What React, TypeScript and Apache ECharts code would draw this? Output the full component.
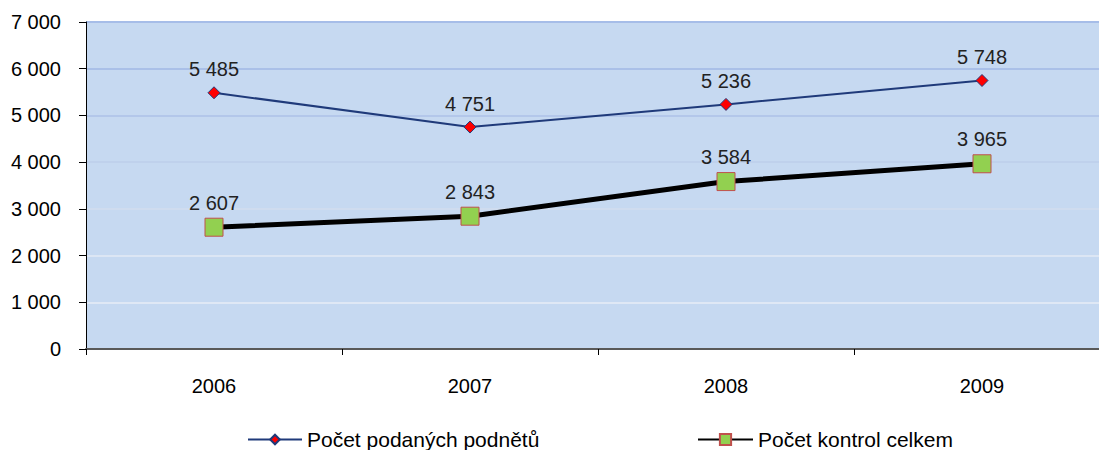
import React, { useEffect, useRef } from "react";
import * as echarts from "echarts";

const categories = ["2006", "2007", "2008", "2009"];
const podnety = [5485, 4751, 5236, 5748];
const kontroly = [2607, 2843, 3584, 3965];
const seriesNames = ["Počet podaných podnětů", "Počet kontrol celkem"];

const fmt = (v: number) => String(v).replace(/\B(?=(\d{3})+(?!\d))/g, " ");

export default function App() {
  const ref = useRef<HTMLDivElement>(null);
  useEffect(() => {
    if (!ref.current) return;
    const chart = echarts.init(ref.current, undefined, { renderer: "svg" });
    const font = "Liberation Sans, Arial, sans-serif";
    chart.setOption({
      animation: false,
      backgroundColor: "#ffffff",
      textStyle: { fontFamily: font },
      grid: { left: 86, right: 0, top: 22, bottom: 101, backgroundColor: "#c6d9f1", show: true, borderWidth: 0 },
      legend: [
        {
          data: [seriesNames[0]],
          left: 247,
          top: 429,
          padding: 0,
          itemWidth: 54,
          itemHeight: 12,
          textStyle: { fontSize: 21, color: "#000", fontFamily: font },
        },
        {
          data: [seriesNames[1]],
          left: 697,
          top: 429,
          padding: 0,
          itemWidth: 55,
          itemHeight: 14,
          textStyle: { fontSize: 21, color: "#000", fontFamily: font },
        },
      ],
      xAxis: {
        type: "category",
        data: categories,
        boundaryGap: true,
        axisLine: { lineStyle: { color: "#595959", width: 2 } },
        axisTick: { show: true, length: 6, lineStyle: { color: "#000", width: 1 } },
        axisLabel: { margin: 27, fontSize: 20, color: "#000", fontFamily: font },
      },
      yAxis: {
        type: "value",
        min: 0,
        max: 7000,
        interval: 1000,
        axisLine: { show: true, lineStyle: { color: "#000", width: 1 } },
        axisTick: { show: true, length: 7, lineStyle: { color: "#000" } },
        axisLabel: { margin: 25, fontSize: 20, color: "#000", fontFamily: font, formatter: (v: number) => fmt(v) },
        splitLine: {
          show: true,
          lineStyle: {
            width: 2,
            color: ["#c6d9f1", "#dfe8f5", "#dce6f4", "#cfdcef", "#bfd1ec", "#b3c7ea", "#aac0e8", "#a6bde8"],
          },
        },
      },
      series: [
        {
          name: seriesNames[0],
          type: "line",
          data: podnety,
          symbol: "diamond",
          symbolSize: 12,
          lineStyle: { color: "#1f3a7a", width: 2 },
          itemStyle: { color: "#ff0000", borderColor: "#1f3a7a", borderWidth: 1 },
          label: { show: true, position: "top", distance: 7, fontSize: 20, color: "#222", fontFamily: font, formatter: (p: any) => fmt(p.value) },
          z: 3,
        },
        {
          name: seriesNames[1],
          type: "line",
          data: kontroly,
          symbol: "rect",
          symbolSize: 18,
          lineStyle: { color: "#000", width: 5 },
          itemStyle: { color: "#92d050", borderColor: "#c0504d", borderWidth: 1 },
          label: { show: true, position: "top", distance: 5, fontSize: 20, color: "#222", fontFamily: font, formatter: (p: any) => fmt(p.value) },
          z: 2,
        },
      ],
    });
    return () => chart.dispose();
  }, []);
  return <div ref={ref} style={{ position: "fixed", left: 0, top: 0, width: 1110, height: 450 }} />;
}
